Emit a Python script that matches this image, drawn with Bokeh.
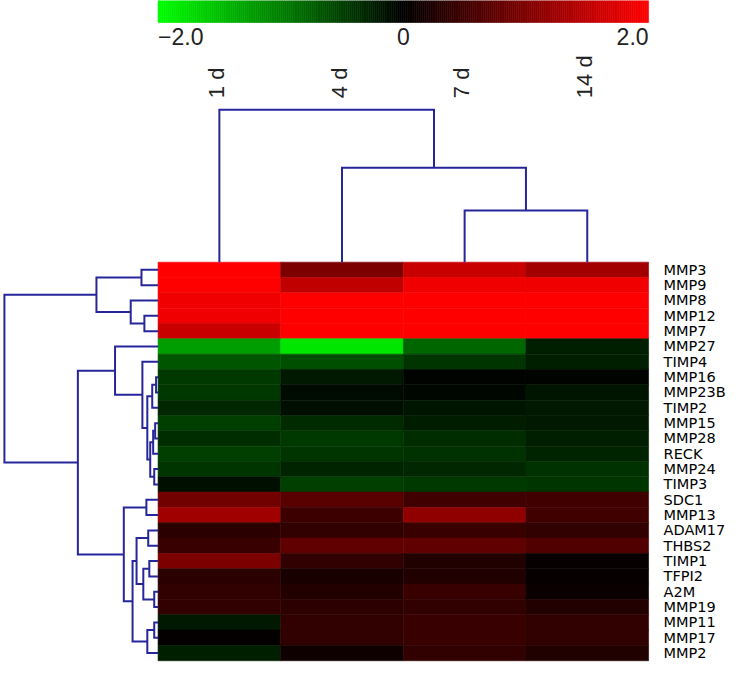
import numpy as np
from bokeh.plotting import figure
from bokeh.models import ColumnDataSource, Range1d
from bokeh.transform import linear_cmap
from bokeh.core.properties import value
from bokeh.embed import file_html
from bokeh.resources import INLINE

# ---------------- data ----------------
samples = ["1 d", "4 d", "7 d", "14 d"]
genes = ["MMP3", "MMP9", "MMP8", "MMP12", "MMP7", "MMP27", "TIMP4", "MMP16",
         "MMP23B", "TIMP2", "MMP15", "MMP28", "RECK", "MMP24", "TIMP3", "SDC1",
         "MMP13", "ADAM17", "THBS2", "TIMP1", "TFPI2", "A2M", "MMP19", "MMP11",
         "MMP17", "MMP2"]

expr_1d = [2.0, 2.0, 1.88, 1.88, 1.57, -1.25, -0.67, -0.44, -0.44, -0.31, -0.5, -0.35,
           -0.5, -0.41, -0.12, 0.88, 1.25, 0.33, 0.44, 0.97, 0.33, 0.38, 0.38,
           -0.19, 0.04, -0.25]
expr_4d = [0.98, 1.5, 2.0, 2.0, 2.0, -1.8, -0.62, -0.19, -0.08, -0.12, -0.33, -0.45,
           -0.41, -0.28, -0.5, 0.69, 0.47, 0.38, 0.75, 0.38, 0.19, 0.28, 0.35,
           0.38, 0.38, 0.12]
expr_7d = [1.57, 1.88, 2.0, 2.0, 2.0, -0.8, -0.42, -0.03, -0.05, -0.17, -0.23, -0.35,
           -0.38, -0.31, -0.44, 0.5, 1.13, 0.44, 0.75, 0.25, 0.25, 0.44, 0.38,
           0.44, 0.44, 0.38]
expr_14d = [1.27, 1.88, 2.0, 2.0, 2.0, -0.24, -0.25, -0.02, -0.17, -0.19, -0.19, -0.25,
            -0.28, -0.38, -0.41, 0.5, 0.5, 0.38, 0.63, 0.06, 0.06, 0.09, 0.28,
            0.38, 0.38, 0.25]

# row dendrogram linkage (scipy style: leaves 0..25, new node ids from 26)
row_link_a = [0, 3, 2, 26, 7, 30, 10, 32, 13, 33, 31, 6, 5, 15, 17, 19, 21, 41, 40, 23, 45, 44, 39, 38, 29]
row_link_b = [1, 4, 27, 28, 8, 9, 11, 12, 14, 34, 35, 36, 37, 16, 18, 20, 22, 42, 43, 24, 25, 46, 47, 48, 49]
row_link_h = [0.108, 0.089, 0.178, 0.401, 0.013, 0.038, 0.019, 0.032, 0.025, 0.051, 0.070,
              0.102, 0.280, 0.076, 0.064, 0.057, 0.025, 0.096, 0.140, 0.025, 0.070,
              0.166, 0.223, 0.522, 1.0]

# column dendrogram linkage (leaves 0..3, new node ids from 4)
col_link_a = [2, 1, 0]
col_link_b = [3, 4, 5]
col_link_h = [0.34, 0.62, 1.0]

scale_ticks = [-2.0, 0.0, 2.0]
scale_tick_labels = ["\u22122.0", "0", "2.0"]
scale_low, scale_high = -2.0, 2.0

# ---------------- layout / style ----------------
REF_W, REF_H = 750, 678          # reference canvas
CELL_W, CELL_H = 125.3, 15.7     # pixel size of a heat-map cell in the reference
HM_LEFT, HM_TOP = 161, 268       # heat-map corner in reference pixels
ROW_DENDRO_W = 157 / CELL_W      # in column units
COL_DENDRO_H = 156 / CELL_H      # in row units
CBAR_TOP, CBAR_BOTTOM = (0 - HM_TOP) / CELL_H, (22.5 - HM_TOP) / CELL_H
COL_LABEL_Y = (100 - HM_TOP) / CELL_H
LINE_COLOR = "#26269a"

n_rows, n_cols = len(genes), len(samples)


def make_palette(n=256):
    pal = []
    for i in range(n):
        v = scale_low + (scale_high - scale_low) * (i + 0.5) / n
        r = int(round(255 * max(v, 0) / 2.0))
        g = int(round(255 * max(-v, 0) / 2.0))
        pal.append("#%02x%02x%02x" % (r, g, 0))
    return pal


palette = make_palette()

p = figure(width=734, height=662, output_backend="svg", toolbar_location=None,
           x_range=Range1d(-HM_LEFT / CELL_W, (REF_W - HM_LEFT) / CELL_W),
           y_range=Range1d((REF_H - HM_TOP) / CELL_H, -HM_TOP / CELL_H),
           min_border=0)
p.axis.visible = False
p.grid.visible = False
p.outline_line_color = None
p.background_fill_color = "white"

# ---------------- heat map ----------------
columns = [expr_1d, expr_4d, expr_7d, expr_14d]
hx, hy, hv = [], [], []
for c, col in enumerate(columns):
    for r, v in enumerate(col):
        hx.append(c + 0.5)
        hy.append(r + 0.5)
        hv.append(v)
src = ColumnDataSource(dict(x=hx, y=hy, v=hv))
cmap = linear_cmap("v", palette, scale_low, scale_high)
p.rect(x="x", y="y", width=1, height=1, source=src, fill_color=cmap,
       line_color=cmap, line_width=0.6)

# ---------------- colour scale ----------------
nb = len(palette)
step = (scale_high - scale_low) / nb
cb_left = [(scale_low + i * step) - scale_low for i in range(nb)]
cb_right = [(scale_low + (i + 1) * step) - scale_low for i in range(nb)]
p.quad(left=cb_left, right=cb_right, top=CBAR_TOP, bottom=CBAR_BOTTOM,
       fill_color=palette, line_color=palette, line_width=0.6)

tick_src = ColumnDataSource(dict(
    x=[t - scale_low for t in scale_ticks], y=[CBAR_BOTTOM] * 3,
    text=scale_tick_labels, align=["left", "center", "right"]))
p.text(x="x", y="y", text="text", source=tick_src, text_align="align",
       text_baseline="top", y_offset=6, text_font=value("Liberation Sans"),
       text_font_size="23px", text_color="#222222")

# ---------------- column labels ----------------
p.text(x=[c + 0.5 for c in range(n_cols)], y=[COL_LABEL_Y] * n_cols, text=samples,
       angle=np.pi / 2, text_align="left", text_baseline="middle", x_offset=-3,
       text_font=value("Liberation Sans"), text_font_size="22px", text_color="#222222")

# ---------------- row labels ----------------
p.text(x=[n_cols] * n_rows, y=[r + 0.5 for r in range(n_rows)], text=genes,
       x_offset=15, text_align="left", text_baseline="middle",
       text_font=value("DejaVu Sans"), text_font_size="14.5px", text_color="black")


# ---------------- dendrograms ----------------
def dendro_lines(n_leaves, la, lb, lh):
    pos = {i: i + 0.5 for i in range(n_leaves)}
    hgt = {i: 0.0 for i in range(n_leaves)}
    segs = []
    for k, (a, b, h) in enumerate(zip(la, lb, lh)):
        node = n_leaves + k
        segs.append(([hgt[a], h, h, hgt[b]], [pos[a], pos[a], pos[b], pos[b]]))
        pos[node] = (pos[a] + pos[b]) / 2
        hgt[node] = h
    return segs


row_segs = dendro_lines(n_rows, row_link_a, row_link_b, row_link_h)
p.multi_line(xs=[[-h * ROW_DENDRO_W for h in hs] for hs, ps in row_segs],
             ys=[ps for hs, ps in row_segs], line_color=LINE_COLOR,
             line_width=2, line_join="miter")

col_segs = dendro_lines(n_cols, col_link_a, col_link_b, col_link_h)
p.multi_line(xs=[ps for hs, ps in col_segs],
             ys=[[-h * COL_DENDRO_H for h in hs] for hs, ps in col_segs],
             line_color=LINE_COLOR, line_width=2, line_join="miter")

open("out.html", "w").write(file_html(p, INLINE))
